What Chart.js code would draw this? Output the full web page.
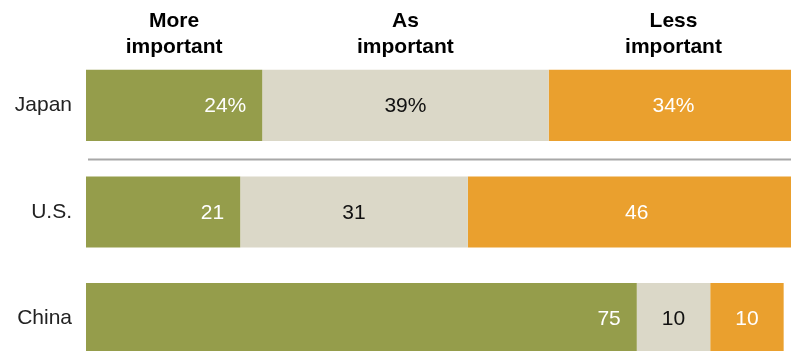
<!DOCTYPE html>
<html>
<head>
<meta charset="utf-8">
<script src="https://cdn.jsdelivr.net/npm/chart.js@4"></script>
<style>
  html, body { margin: 0; padding: 0; background: #fff; overflow: hidden; }
  canvas { display: block; }
</style>
</head>
<body>
<canvas id="chart" width="791" height="372"></canvas>
<script>
const countries = ['Japan', 'U.S.', 'China'];
const moreImportant = [24, 21, 75];
const asImportant = [39, 31, 10];
const lessImportant = [34, 46, 10];
const headers = [['More', 'important'], ['As', 'important'], ['Less', 'important']];

const green = '#959d4b';
const beige = '#dbd8c8';
const orange = '#eaa02e';
const font = '"Liberation Sans", Arial, sans-serif';

// value labels inside the bars, and column headers above the Japan row
const barLabels = {
    id: 'barLabels',
    afterDatasetsDraw(chart) {
        const ctx = chart.ctx;
        ctx.save();
        ctx.font = '21px ' + font;
        ctx.textBaseline = 'middle';
        chart.data.datasets.forEach((ds, di) => {
            const meta = chart.getDatasetMeta(di);
            meta.data.forEach((bar, i) => {
                let txt = String(ds.data[i]);
                if (i === 0) txt += '%';
                ctx.fillStyle = di === 1 ? '#111' : '#fff';
                if (di === 0) {
                    ctx.textAlign = 'right';
                    ctx.fillText(txt, bar.x - 16, bar.y + 1);
                } else {
                    ctx.textAlign = 'center';
                    ctx.fillText(txt, (bar.base + bar.x) / 2, bar.y + 1);
                }
            });
        });

        // headers over the first row's segments
        ctx.font = 'bold 21px ' + font;
        ctx.fillStyle = '#000';
        ctx.textAlign = 'center';
        ctx.textBaseline = 'alphabetic';
        chart.data.datasets.forEach((ds, di) => {
            const bar = chart.getDatasetMeta(di).data[0];
            const cx = (bar.base + bar.x) / 2;
            ctx.fillText(headers[di][0], cx, 27);
            ctx.fillText(headers[di][1], cx, 53);
        });

        // rule between Japan and the others
        const y = chart.scales.y;
        const ly = Math.round((y.getPixelForValue(0) + y.getPixelForValue(1)) / 2) + 0.5;
        ctx.strokeStyle = '#a8a8a8';
        ctx.lineWidth = 2;
        ctx.beginPath();
        ctx.moveTo(88, ly);
        ctx.lineTo(chart.width, ly);
        ctx.stroke();
        ctx.restore();
    }
};

new Chart(document.getElementById('chart'), {
    type: 'bar',
    data: {
        labels: countries,
        datasets: [
            { label: 'More important', data: moreImportant, backgroundColor: green },
            { label: 'As important', data: asImportant, backgroundColor: beige },
            { label: 'Less important', data: lessImportant, backgroundColor: orange }
        ]
    },
    options: {
        indexAxis: 'y',
        responsive: false,
        animation: false,
        devicePixelRatio: 1,
        barPercentage: 0.667,
        categoryPercentage: 1,
        layout: { padding: { top: 52 } },
        plugins: { legend: { display: false }, tooltip: { enabled: false } },
        scales: {
            x: { stacked: true, min: 0, max: 96, display: false },
            y: {
                stacked: true,
                grid: { display: false, drawTicks: false },
                border: { display: false },
                ticks: { color: '#222', padding: 14, font: { family: font, size: 21 } },
                afterFit(scale) {
                    scale.width = 86;
                    scale.paddingTop = 0;
                    scale.paddingBottom = 0;
                }
            }
        }
    },
    plugins: [barLabels]
});
</script>
</body>
</html>
